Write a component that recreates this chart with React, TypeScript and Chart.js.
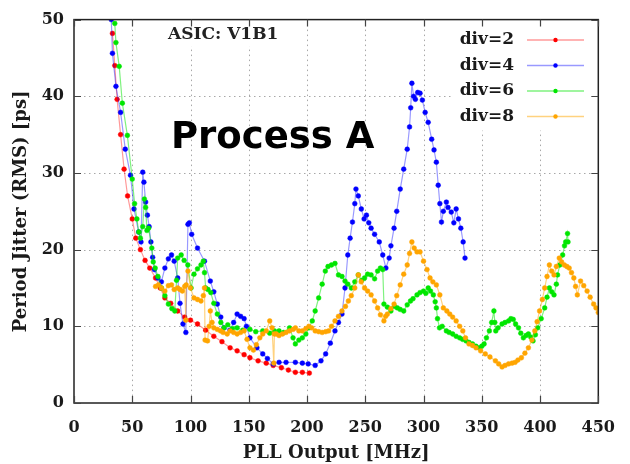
import React, { useEffect, useRef } from "react";
import { Chart, registerables } from "chart.js";

Chart.register(...registerables);

const xTicks = [0, 50, 100, 150, 200, 250, 300, 350, 400, 450];
const yTicks = [0, 10, 20, 30, 40, 50];
const seriesLabels = ["div=2", "div=4", "div=6", "div=8"];
const annotationTop = "ASIC: V1B1";
const annotationMain = "Process A";
const xTitle = "PLL Output [MHz]";
const yTitle = "Period Jitter (RMS) [ps]";

const div2X = [33, 35, 37, 40, 43, 46, 50, 53, 57, 61, 65, 70, 74, 78, 83, 89, 95, 100, 106, 113, 120, 127, 134, 140, 146, 151, 158, 165, 171, 178, 184, 190, 196, 202];
const div2Y = [48.2, 44, 39.6, 35, 30.5, 27, 24, 21.5, 20, 18.6, 17.6, 16.3, 15, 13.7, 13, 12, 11.2, 10.8, 10.3, 9.5, 8.7, 8, 7.2, 6.8, 6.3, 5.9, 5.5, 5.2, 4.9, 4.6, 4.3, 4.0, 4.0, 3.9];

const div4X = [32, 33, 36, 40, 44, 48.5, 51.5, 55.5, 57.5, 59, 60, 61.5, 63, 64.5, 66, 67.5, 69, 72, 75, 78, 81, 83.7, 86, 89, 91, 93.5, 96, 97.8, 99, 101, 106, 112, 117, 120, 123, 126, 128.7, 134, 137, 140, 143, 146, 148, 151, 157, 162, 166, 171, 176, 182, 190, 196, 201, 207, 212, 216, 220, 224, 227, 230, 232.6, 235, 237, 239, 241, 242, 244, 246.6, 249, 251, 253, 255, 258, 262, 265, 267.7, 270.5, 272, 274.7, 277, 280, 283, 286, 288, 289, 290, 291.5, 293, 295, 297, 299, 301.4, 304, 307, 309, 311, 312.6, 314, 315.4, 317, 319.6, 321, 323.8, 326, 328, 330, 332, 334, 335.6];
const div4Y = [50, 45.6, 41.3, 37.9, 33.1, 29.7, 25.3, 22.3, 21, 30.1, 28.8, 26.2, 24.5, 23, 21, 19, 17.4, 16.3, 15.8, 17.6, 18.8, 19.3, 18.5, 16.3, 13, 10.3, 9.2, 23.3, 23.5, 22, 20.2, 18.5, 15.9, 14.5, 12.9, 11.2, 9.8, 9.5, 10.5, 11.6, 11.3, 11, 10, 8.5, 7.2, 6.4, 5.8, 5.1, 5.3, 5.3, 5.3, 5.2, 5.1, 4.9, 5.5, 6.4, 7.8, 9.4, 10.5, 11.6, 15, 19.3, 21.5, 23.6, 26, 27.9, 27, 25.3, 24, 24.5, 23.5, 22.8, 22, 21, 19.3, 17.6, 18.9, 20.5, 22.8, 25, 27.9, 30.5, 33.1, 36, 38.5, 41.7, 40, 39.6, 40.5, 40.4, 39.5, 37.9, 36.6, 34.4, 33, 31.4, 28.4, 26, 23.6, 25, 26.2, 25.5, 24.9, 23.5, 25.3, 24, 22.8, 21, 18.9];

const div6X = [35, 36, 38.8, 41.5, 45.8, 50, 52, 54, 55.6, 57, 59, 60.4, 61.5, 62.6, 64, 66.8, 68, 69.7, 72, 75, 78, 81, 84, 86.5, 88, 89, 92, 94.5, 97.7, 100.5, 103, 106, 109, 111, 112, 113, 115, 117.4, 120, 123, 126, 128.7, 132, 136, 140, 145, 151, 156, 162, 168, 172, 176, 180, 185, 188, 190, 193, 196, 199, 201.6, 204.5, 207, 210, 213, 215.7, 218, 221, 224, 227, 230, 232.6, 235, 238, 241, 244, 247, 249.4, 252, 255, 258, 260.6, 263, 265, 266, 269, 272, 275, 277.5, 280, 283, 286, 288.8, 291, 294.4, 297, 300, 302, 304, 306, 308.4, 310, 311, 312, 313.7, 316, 319.6, 322, 325, 328, 331, 333.5, 336.5, 339, 342, 345, 347.7, 350, 352, 354, 356.5, 358.5, 360.4, 361.2, 362, 364, 367.4, 370, 373, 375, 377, 379, 381.5, 383.5, 385.7, 388, 390, 392, 394, 396, 398, 401, 404, 406, 408, 410, 412, 414, 415, 417, 419.4, 421, 422, 423.6, 424];
const div6Y = [49.5, 47, 43.9, 39.1, 34.9, 29.2, 26, 24, 22.3, 21.5, 23, 26.6, 25.5, 22.5, 22.8, 20.2, 18.4, 17.6, 16.5, 15, 14, 12.9, 12.3, 12, 16, 18.9, 19.3, 18.6, 18, 15, 16.8, 17.5, 18, 18.5, 17, 15, 14.8, 14.4, 13, 11.6, 10.5, 9.8, 10.2, 9.7, 9.8, 9.5, 9.6, 9.3, 9.4, 9.1, 9.4, 9.4, 9.2, 9.8, 8.5, 7.7, 8.2, 8.5, 9, 9.8, 10.7, 12, 13.7, 15.5, 17.2, 17.8, 18, 18.2, 16.7, 16.5, 15.9, 15.5, 15, 15.8, 16.7, 16, 16.3, 16.8, 16.7, 16.2, 17.2, 17.6, 17.4, 12.9, 12.5, 12, 12.6, 12.4, 12.2, 12, 12.8, 13.3, 13.6, 14.1, 14.4, 14.6, 14.3, 15, 14.6, 14.1, 13.2, 12.4, 11, 9.8, 10, 9.4, 9.2, 9, 8.7, 8.5, 8.3, 8.1, 7.9, 7.7, 7.4, 7.2, 7.4, 7.7, 8.5, 9.4, 10.5, 12, 10.5, 9.4, 9.8, 10.3, 10.5, 10.7, 11, 10.9, 10.3, 9.8, 9.1, 8.5, 8.8, 9, 8.6, 8.1, 8.9, 9.8, 11, 12.4, 13.8, 15, 14.5, 14.1, 15.5, 16.7, 18, 19.3, 20.5, 21, 22.1, 21];

const div8X = [70, 72.5, 75, 78, 81, 83.7, 86, 89, 91, 93, 95, 96, 96.3, 97.8, 100, 103, 106, 109, 111, 112, 112.5, 114.6, 116, 117, 118.5, 120, 123, 125.8, 128, 131.5, 134, 137, 140, 143, 146, 148.5, 151, 154, 156.5, 159.5, 162, 165, 168, 170, 171.5, 172, 173.6, 176, 179, 182, 185, 188, 190, 193, 196, 199, 201.6, 204, 207, 210, 213, 216, 218.5, 221, 224, 227, 230, 233, 235.5, 238, 241, 244, 246.5, 249.4, 252, 255, 258, 260.6, 263, 266, 267.5, 269, 272, 274.7, 277, 280, 283, 286, 288, 290, 292, 294.4, 297, 300, 303, 305.6, 308, 311, 314, 317, 320, 322.5, 325, 328, 331, 333.7, 336, 339, 342, 345, 349, 353, 357, 361.7, 364.5, 367.4, 370, 373, 376, 378.6, 381, 384, 387, 390, 393, 395.5, 397.5, 399.6, 402, 404, 406, 408, 410, 412, 414, 416.5, 418.5, 420.8, 423, 425, 427, 429, 430.5, 432, 434.8, 437.5, 440.4, 443, 446, 448, 450];
const div8Y = [15.2, 15.4, 15, 14.6, 15.3, 15.4, 14.8, 15, 14.8, 14.6, 15.2, 10.8, 15.4, 17.2, 15, 13.7, 13.5, 13.3, 14, 15, 8.2, 8.1, 10, 12, 10.5, 9.8, 9.6, 9.4, 9.2, 9, 9.4, 9.2, 9, 9.2, 9.4, 8.3, 7.2, 6.9, 7.6, 8.5, 9, 9.4, 10.7, 9.8, 5.2, 9.0, 9, 8.8, 9, 9.2, 9.4, 9.6, 9.8, 9.4, 9.4, 9.7, 10, 9.8, 9.4, 9.3, 9.2, 9.3, 9.4, 10, 10.7, 11.3, 12, 12.6, 13.3, 14, 15, 16.7, 15.8, 15, 14.6, 14.1, 13.3, 12.4, 11.5, 10.7, 11.3, 11.6, 12.3, 12.9, 14, 15.4, 16.8, 18, 19.5, 21, 20.2, 19.7, 19.7, 18.5, 17.4, 16.3, 15.8, 15.4, 14.1, 12.4, 12, 11.6, 11.2, 10.7, 10, 9.4, 8.5, 7.7, 7.5, 7.2, 6.8, 6.4, 6, 5.5, 5.1, 4.7, 4.9, 5.1, 5.2, 5.3, 5.6, 5.9, 6.5, 7.2, 8.2, 9.4, 10.6, 12, 13.5, 15, 16.5, 18, 17.2, 16.7, 17.8, 18.9, 18.4, 18, 17.8, 17.6, 17, 16.3, 15.2, 14.1, 15.9, 15.3, 14.6, 13.8, 12.9, 12.4, 11.8];

const seriesX = [div2X, div4X, div6X, div8X];
const seriesY = [div2Y, div4Y, div6Y, div8Y];
const markerColors = ["#ff0000", "#0000ff", "#00e600", "#ffa500"];
const lineColors = ["rgba(255,0,0,0.4)", "rgba(0,0,255,0.4)", "rgba(0,230,0,0.5)", "rgba(255,165,0,0.5)"];

const serif = '"DejaVu Serif", "Liberation Serif", serif';
const sans = '"DejaVu Sans", "Liberation Sans", sans-serif';

const decorPlugin = {
  id: "decor",
  beforeDatasetsDraw(chart: any) {
    const { ctx, chartArea: a, scales } = chart;
    const x = scales.x;
    const y = scales.y;
    ctx.save();
    ctx.strokeStyle = "#a8a8a8";
    ctx.lineWidth = 1;
    ctx.setLineDash([1.5, 3.5]);
    for (const v of xTicks) {
      if (v === xTicks[0] || v === xTicks[xTicks.length - 1]) continue;
      const px = Math.round(x.getPixelForValue(v)) + 0.5;
      ctx.beginPath();
      ctx.moveTo(px, a.top);
      ctx.lineTo(px, a.bottom);
      ctx.stroke();
    }
    for (const v of yTicks) {
      if (v === yTicks[0] || v === yTicks[yTicks.length - 1]) continue;
      const py = Math.round(y.getPixelForValue(v)) + 0.5;
      ctx.beginPath();
      ctx.moveTo(a.left, py);
      ctx.lineTo(a.right, py);
      ctx.stroke();
    }
    ctx.setLineDash([]);
    ctx.fillStyle = "#ffffff";
    ctx.font = `bold 17px ${serif}`;
    const tw = ctx.measureText(annotationTop).width;
    ctx.fillRect(166, 24, tw + 6, 22);
    ctx.fillRect(452, a.top + 1, a.right - 452 - 4, 110);
    ctx.restore();
  },
  afterDatasetsDraw(chart: any) {
    const { ctx, chartArea: a, scales } = chart;
    const x = scales.x;
    const y = scales.y;
    ctx.save();
    ctx.font = `bold 17px ${serif}`;
    ctx.textAlign = "right";
    ctx.textBaseline = "middle";
    seriesLabels.forEach((lab, i) => {
      const ly = 40 + i * 25.5;
      ctx.fillStyle = "#1a1a1a";
      ctx.fillText(lab, 514, ly);
      ctx.strokeStyle = lineColors[i];
      ctx.lineWidth = 1.5;
      ctx.beginPath();
      ctx.moveTo(527, ly);
      ctx.lineTo(584, ly);
      ctx.stroke();
      ctx.fillStyle = markerColors[i];
      ctx.beginPath();
      ctx.arc(555.5, ly, 2.2, 0, Math.PI * 2);
      ctx.fill();
    });
    ctx.textAlign = "left";
    ctx.textBaseline = "middle";
    ctx.fillStyle = "#222";
    ctx.font = `bold 17px ${serif}`;
    ctx.fillText(annotationTop, 168, 35);
    ctx.fillStyle = "#000";
    ctx.font = `bold 37px ${sans}`;
    ctx.textBaseline = "alphabetic";
    ctx.fillText(annotationMain, 171, 148);
    ctx.strokeStyle = "#222";
    ctx.lineWidth = 1.5;
    ctx.strokeRect(a.left, a.top, a.right - a.left, a.bottom - a.top);
    ctx.strokeStyle = "#444";
    ctx.lineWidth = 1.2;
    const tl = 7;
    for (const v of xTicks) {
      const px = Math.round(x.getPixelForValue(v)) + 0.5;
      ctx.beginPath();
      ctx.moveTo(px, a.bottom);
      ctx.lineTo(px, a.bottom - tl);
      ctx.moveTo(px, a.top);
      ctx.lineTo(px, a.top + tl);
      ctx.stroke();
    }
    for (const v of yTicks) {
      const py = Math.round(y.getPixelForValue(v)) + 0.5;
      ctx.beginPath();
      ctx.moveTo(a.left, py);
      ctx.lineTo(a.left + tl, py);
      ctx.moveTo(a.right, py);
      ctx.lineTo(a.right - tl, py);
      ctx.stroke();
    }
    ctx.restore();
  },
};

export default function App() {
  const canvasRef = useRef<HTMLCanvasElement | null>(null);

  useEffect(() => {
    const canvas = canvasRef.current;
    if (!canvas) return;
    const datasets = seriesLabels.map((label, i) => ({
      label,
      data: seriesX[i].map((xv, k) => ({ x: xv, y: seriesY[i][k] })),
      showLine: true,
      borderColor: lineColors[i],
      borderWidth: 1.2,
      backgroundColor: markerColors[i],
      pointBackgroundColor: markerColors[i],
      pointBorderColor: markerColors[i],
      pointRadius: 2.4,
      pointBorderWidth: 0.5,
      order: 4 - i,
      tension: 0,
    }));
    const chart = new Chart(canvas, {
      type: "scatter",
      data: { datasets },
      options: {
        responsive: false,
        animation: false,
        devicePixelRatio: 1,
        layout: { padding: { top: 16, right: 22, left: 0, bottom: 0 } },
        plugins: { legend: { display: false }, tooltip: { enabled: false } },
        scales: {
          x: {
            type: "linear",
            min: 0,
            max: 450,
            afterBuildTicks: (s: any) => {
              s.ticks = xTicks.map((v) => ({ value: v }));
            },
            afterFit: (s: any) => {
              s.height = 61;
            },
            ticks: {
              font: { family: serif, weight: "bold", size: 16 },
              color: "#1a1a1a",
              padding: 15,
              maxRotation: 0,
              autoSkip: false,
            },
            grid: { display: false, drawTicks: false },
            border: { display: false },
            title: {
              display: true,
              text: xTitle,
              font: { family: serif, weight: "bold", size: 18 },
              color: "#1a1a1a",
              padding: { top: 0, bottom: 0 },
            },
          },
          y: {
            type: "linear",
            min: 0,
            max: 50,
            afterBuildTicks: (s: any) => {
              s.ticks = yTicks.map((v) => ({ value: v }));
            },
            afterFit: (s: any) => {
              s.width = 74;
            },
            ticks: {
              font: { family: serif, weight: "bold", size: 16 },
              color: "#1a1a1a",
              padding: 10,
              autoSkip: false,
            },
            grid: { display: false, drawTicks: false },
            border: { display: false },
            title: {
              display: true,
              text: yTitle,
              font: { family: serif, weight: "bold", size: 18 },
              color: "#1a1a1a",
              padding: { top: 11, bottom: 0 },
            },
          },
        },
      },
      plugins: [decorPlugin],
    } as any);
    return () => chart.destroy();
  }, []);

  return (
    <div style={{ position: "fixed", left: 0, top: 0, width: 630, height: 464, background: "#fff" }}>
      <canvas ref={canvasRef} width={630} height={464} style={{ display: "block" }} />
    </div>
  );
}
